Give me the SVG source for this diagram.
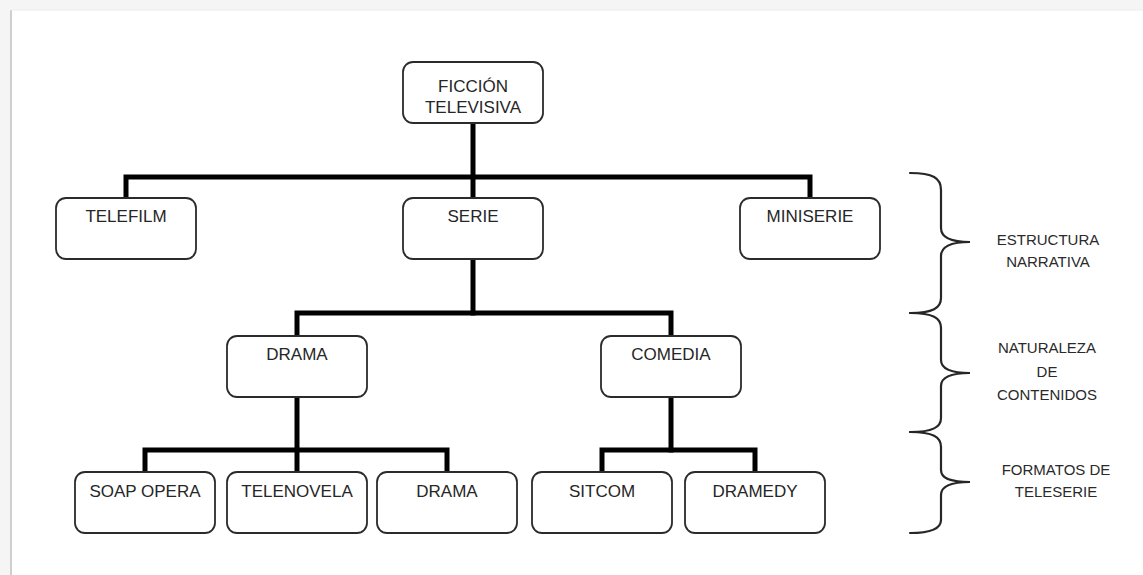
<svg xmlns="http://www.w3.org/2000/svg" width="1143" height="575" viewBox="0 0 1143 575">
<style>
.box{fill:#fff;stroke:#2b2b2b;stroke-width:1.8}
.lbl{font-family:"Liberation Sans",Arial,sans-serif;font-size:17px;fill:#262626;text-anchor:middle}
.side{font-family:"Liberation Sans",Arial,sans-serif;font-size:15px;fill:#2a2a2a;text-anchor:middle}
.con{fill:none;stroke:#000;stroke-width:5;stroke-linecap:square;stroke-linejoin:miter}
.brace{fill:none;stroke:#262626;stroke-width:2.2;stroke-linecap:round}
</style>
<rect x="0" y="0" width="1143" height="575" fill="#f5f5f5"/>
<rect x="11" y="10" width="1132" height="565" fill="#fff"/>
<line x1="11" y1="10" x2="11" y2="575" stroke="#cfcfcf" stroke-width="2"/>
<line x1="11" y1="10" x2="1143" y2="10" stroke="#ececec" stroke-width="1"/>

<g id="connectors">
<path class="con" d="M473,123 V196"/>
<path class="con" d="M126,196 V177 H810 V196"/>
<path class="con" d="M473,259 V313"/>
<path class="con" d="M297,334 V313 H671 V334"/>
<path class="con" d="M297,397 V470"/>
<path class="con" d="M145,470 V450 H447 V470"/>
<path class="con" d="M671,397 V450"/>
<path class="con" d="M602,470 V450 H755 V470"/>
</g>

<g id="n-ficcion"><rect class="box" x="403" y="62" width="140" height="61" rx="10"/><text class="lbl" x="473" y="92">FICCIÓN</text><text class="lbl" x="473" y="113">TELEVISIVA</text></g>
<g id="n-telefilm"><rect class="box" x="56" y="198" width="140" height="61" rx="10"/><text class="lbl" x="126" y="222">TELEFILM</text></g>
<g id="n-serie"><rect class="box" x="403" y="198" width="140" height="61" rx="10"/><text class="lbl" x="473" y="222">SERIE</text></g>
<g id="n-miniserie"><rect class="box" x="740" y="198" width="140" height="61" rx="10"/><text class="lbl" x="810" y="222">MINISERIE</text></g>
<g id="n-drama"><rect class="box" x="227" y="336" width="140" height="61" rx="10"/><text class="lbl" x="297" y="360">DRAMA</text></g>
<g id="n-comedia"><rect class="box" x="601" y="336" width="140" height="61" rx="10"/><text class="lbl" x="671" y="360">COMEDIA</text></g>
<g id="n-soap"><rect class="box" x="75" y="472" width="140" height="61" rx="10"/><text class="lbl" x="145" y="497">SOAP OPERA</text></g>
<g id="n-telenovela"><rect class="box" x="227" y="472" width="140" height="61" rx="10"/><text class="lbl" x="297" y="497">TELENOVELA</text></g>
<g id="n-drama2"><rect class="box" x="377" y="472" width="140" height="61" rx="10"/><text class="lbl" x="447" y="497">DRAMA</text></g>
<g id="n-sitcom"><rect class="box" x="532" y="472" width="140" height="61" rx="10"/><text class="lbl" x="602" y="497">SITCOM</text></g>
<g id="n-dramedy"><rect class="box" x="685" y="472" width="140" height="61" rx="10"/><text class="lbl" x="755" y="497">DRAMEDY</text></g>

<g id="brace-estructura">
<path class="brace" d="M910,173 C933,173 941,178 941,190 L941,228 C941,237 949,242 970,242 C949,242 941,247 941,256 L941,298 C941,308 933,313 910,313"/>
<text class="side" x="1048" y="245">ESTRUCTURA</text><text class="side" x="1048" y="267">NARRATIVA</text>
</g>
<g id="brace-naturaleza">
<path class="brace" d="M910,313 C933,313 941,318 941,328 L941,360 C941,368 949,373 970,373 C949,373 941,378 941,386 L941,418 C941,427 933,432 910,432"/>
<text class="side" x="1047" y="353">NATURALEZA</text><text class="side" x="1047" y="377">DE</text><text class="side" x="1047" y="400">CONTENIDOS</text>
</g>
<g id="brace-formatos">
<path class="brace" d="M910,432 C933,432 941,437 941,447 L941,470 C941,478 949,482 970,482 C949,482 941,487 941,495 L941,520 C941,528 933,533 910,533"/>
<text class="side" x="1056" y="475">FORMATOS DE</text><text class="side" x="1056" y="497">TELESERIE</text>
</g>
</svg>
